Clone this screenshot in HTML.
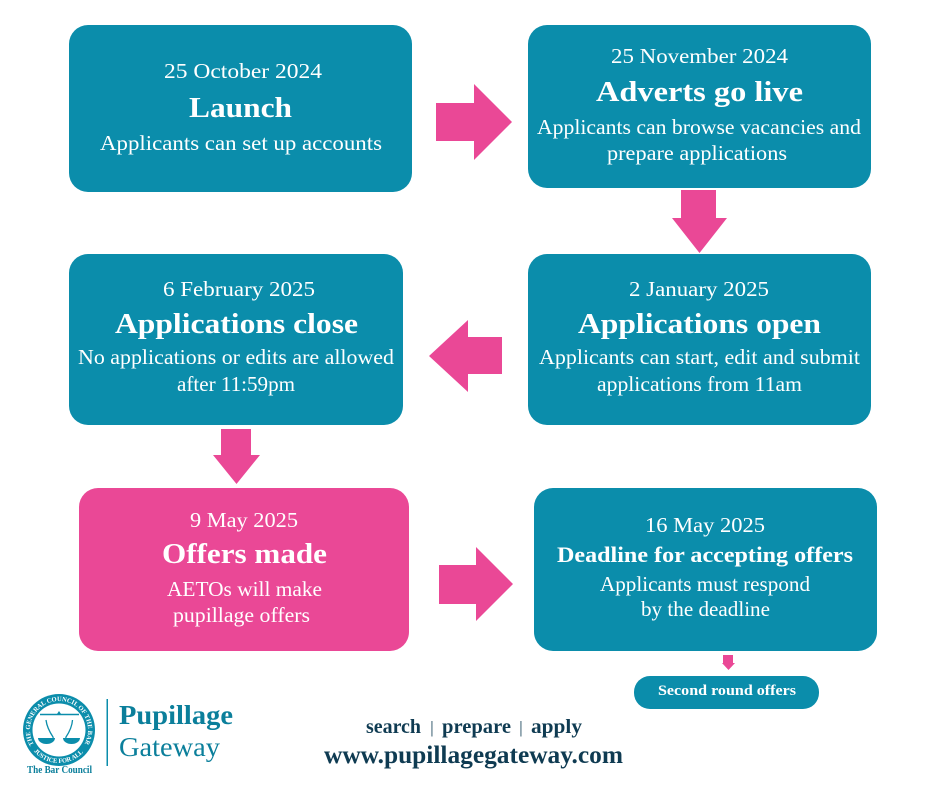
<!DOCTYPE html>
<html><head><meta charset="utf-8"><style>
html,body{margin:0;padding:0;background:#fff}
svg{display:block}
text{font-family:"Liberation Serif",serif}
.w{fill:#fff;text-anchor:start}
.d{font-size:21px}.t{font-size:29px;font-weight:bold}.b{font-size:21px}
</style></head><body>
<svg width="940" height="788" viewBox="0 0 940 788" xmlns="http://www.w3.org/2000/svg">
<rect width="940" height="788" fill="#fff"/>
<g fill="#0b8dab">
<rect x="69" y="25" width="343" height="167" rx="19"/>
<rect x="528" y="25" width="343" height="163" rx="19"/>
<rect x="528" y="254" width="343" height="171" rx="19"/>
<rect x="69" y="254" width="334" height="171" rx="19"/>
<rect x="534" y="488" width="343" height="163" rx="19"/>
<rect x="634" y="676" width="185" height="33" rx="16"/>
</g>
<rect x="79" y="488" width="330" height="163" rx="19" fill="#ea4896"/>
<g fill="#ea4896">
<polygon points="436,103 474,103 474,84 512,122 474,160 474,141 436,141"/>
<polygon points="681,190 716,190 716,218 727,218 699.5,253 672,218 681,218"/>
<polygon points="502,337 468,337 468,320 429,356 468,392 468,374 502,374"/>
<polygon points="221,429 251,429 251,455 260,455 236.5,484 213,455 221,455"/>
<polygon points="439,565 476,565 476,547 513,584 476,621 476,604 439,604"/>
<polygon points="723,655 733,655 733,663 735,663 728.5,670 722,663 723,663"/>
</g>
<g class="w" fill="#fff">
<text class="w d" x="164" y="78" textLength="158" lengthAdjust="spacingAndGlyphs">25 October 2024</text>
<text class="w t" x="189" y="117" textLength="103" lengthAdjust="spacingAndGlyphs">Launch</text>
<text class="w b" x="100" y="150" textLength="282" lengthAdjust="spacingAndGlyphs">Applicants can set up accounts</text>

<text class="w d" x="611" y="63" textLength="177" lengthAdjust="spacingAndGlyphs">25 November 2024</text>
<text class="w t" x="596" y="101" textLength="207" lengthAdjust="spacingAndGlyphs">Adverts go live</text>
<text class="w b" x="537" y="134" textLength="324" lengthAdjust="spacingAndGlyphs">Applicants can browse vacancies and</text>
<text class="w b" x="607" y="160" textLength="180" lengthAdjust="spacingAndGlyphs">prepare applications</text>

<text class="w d" x="629" y="296" textLength="140" lengthAdjust="spacingAndGlyphs">2 January 2025</text>
<text class="w t" x="578" y="333" textLength="243" lengthAdjust="spacingAndGlyphs">Applications open</text>
<text class="w b" x="539" y="364" textLength="321" lengthAdjust="spacingAndGlyphs">Applicants can start, edit and submit</text>
<text class="w b" x="597" y="391" textLength="205" lengthAdjust="spacingAndGlyphs">applications from 11am</text>

<text class="w d" x="163" y="296" textLength="152" lengthAdjust="spacingAndGlyphs">6 February 2025</text>
<text class="w t" x="115" y="333" textLength="243" lengthAdjust="spacingAndGlyphs">Applications close</text>
<text class="w b" x="78" y="364" textLength="316" lengthAdjust="spacingAndGlyphs">No applications or edits are allowed</text>
<text class="w b" x="177" y="391" textLength="118" lengthAdjust="spacingAndGlyphs">after 11:59pm</text>

<text class="w d" x="190" y="527" textLength="108" lengthAdjust="spacingAndGlyphs">9 May 2025</text>
<text class="w t" x="162" y="563" textLength="165" lengthAdjust="spacingAndGlyphs">Offers made</text>
<text class="w b" x="167" y="596" textLength="155" lengthAdjust="spacingAndGlyphs">AETOs will make</text>
<text class="w b" x="173" y="622" textLength="137" lengthAdjust="spacingAndGlyphs">pupillage offers</text>

<text class="w d" x="645" y="532" textLength="120" lengthAdjust="spacingAndGlyphs">16 May 2025</text>
<text class="w" x="557" y="562" font-size="22" font-weight="bold" textLength="296" lengthAdjust="spacingAndGlyphs">Deadline for accepting offers</text>
<text class="w b" x="600" y="591" textLength="210" lengthAdjust="spacingAndGlyphs">Applicants must respond</text>
<text class="w b" x="641" y="616" textLength="129" lengthAdjust="spacingAndGlyphs">by the deadline</text>

<text class="w" x="658" y="695" font-size="15" font-weight="bold" textLength="138" lengthAdjust="spacingAndGlyphs">Second round offers</text>
</g>
<g fill="#0f3b52" font-weight="bold">
<text x="366" y="733" font-size="20" textLength="55" lengthAdjust="spacingAndGlyphs">search</text>
<text x="442" y="733" font-size="20" textLength="69" lengthAdjust="spacingAndGlyphs">prepare</text>
<text x="531" y="733" font-size="20" textLength="51" lengthAdjust="spacingAndGlyphs">apply</text>
<text x="324" y="763" font-size="25" textLength="299" lengthAdjust="spacingAndGlyphs">www.pupillagegateway.com</text>
</g>
<text x="430.3" y="733" font-size="17" font-weight="normal" fill="#0f3b52">|</text>
<text x="519.3" y="733" font-size="17" font-weight="normal" fill="#0f3b52">|</text>
<!-- logo -->
<circle cx="59" cy="730" r="36" fill="#0b8dab"/>
<circle cx="59" cy="730" r="26.5" fill="#fff"/>
<defs>
<path id="top" d="M33.9,744.5 A29,29 0 1 1 84.1,744.5"/>
<path id="bot" d="M33.7,751.2 A33,33 0 0 0 84.3,751.2"/>
</defs>
<text font-size="6.5" font-weight="bold" fill="#fff"><textPath href="#top" textLength="120" lengthAdjust="spacing">THE GENERAL COUNCIL OF THE BAR</textPath></text>
<text font-size="6.5" font-weight="bold" fill="#fff"><textPath href="#bot" textLength="56" lengthAdjust="spacing">JUSTICE FOR ALL</textPath></text>
<g fill="#0b8dab" stroke="#0b8dab">
<line x1="40" y1="714.5" x2="79" y2="714.5" stroke-width="1.4"/>
<path d="M46,720 Q47,728 53,737 Q54,739 50,741 M72.5,720 Q72,728 66,737 Q65,739 69,741" stroke-width="1.3" fill="none"/>
<path d="M38,738 H55 A8.5,6 0 0 1 38,738Z M63,738 H80 A8.5,6 0 0 1 63,738Z" stroke="none"/>
<path d="M57,714 L59,711 L61,714Z" stroke="none"/>
</g>
<text x="27" y="773" font-size="11" font-weight="bold" fill="#0b7f9b" textLength="65" lengthAdjust="spacingAndGlyphs">The Bar Council</text>
<rect x="106.5" y="699" width="1.5" height="67" fill="#0b8dab"/>
<text x="119" y="724" font-size="27" font-weight="bold" fill="#0b7f9b" textLength="114" lengthAdjust="spacingAndGlyphs">Pupillage</text>
<text x="119" y="756" font-size="27" fill="#0b7f9b" textLength="101" lengthAdjust="spacingAndGlyphs">Gateway</text>
</svg>
</body></html>
